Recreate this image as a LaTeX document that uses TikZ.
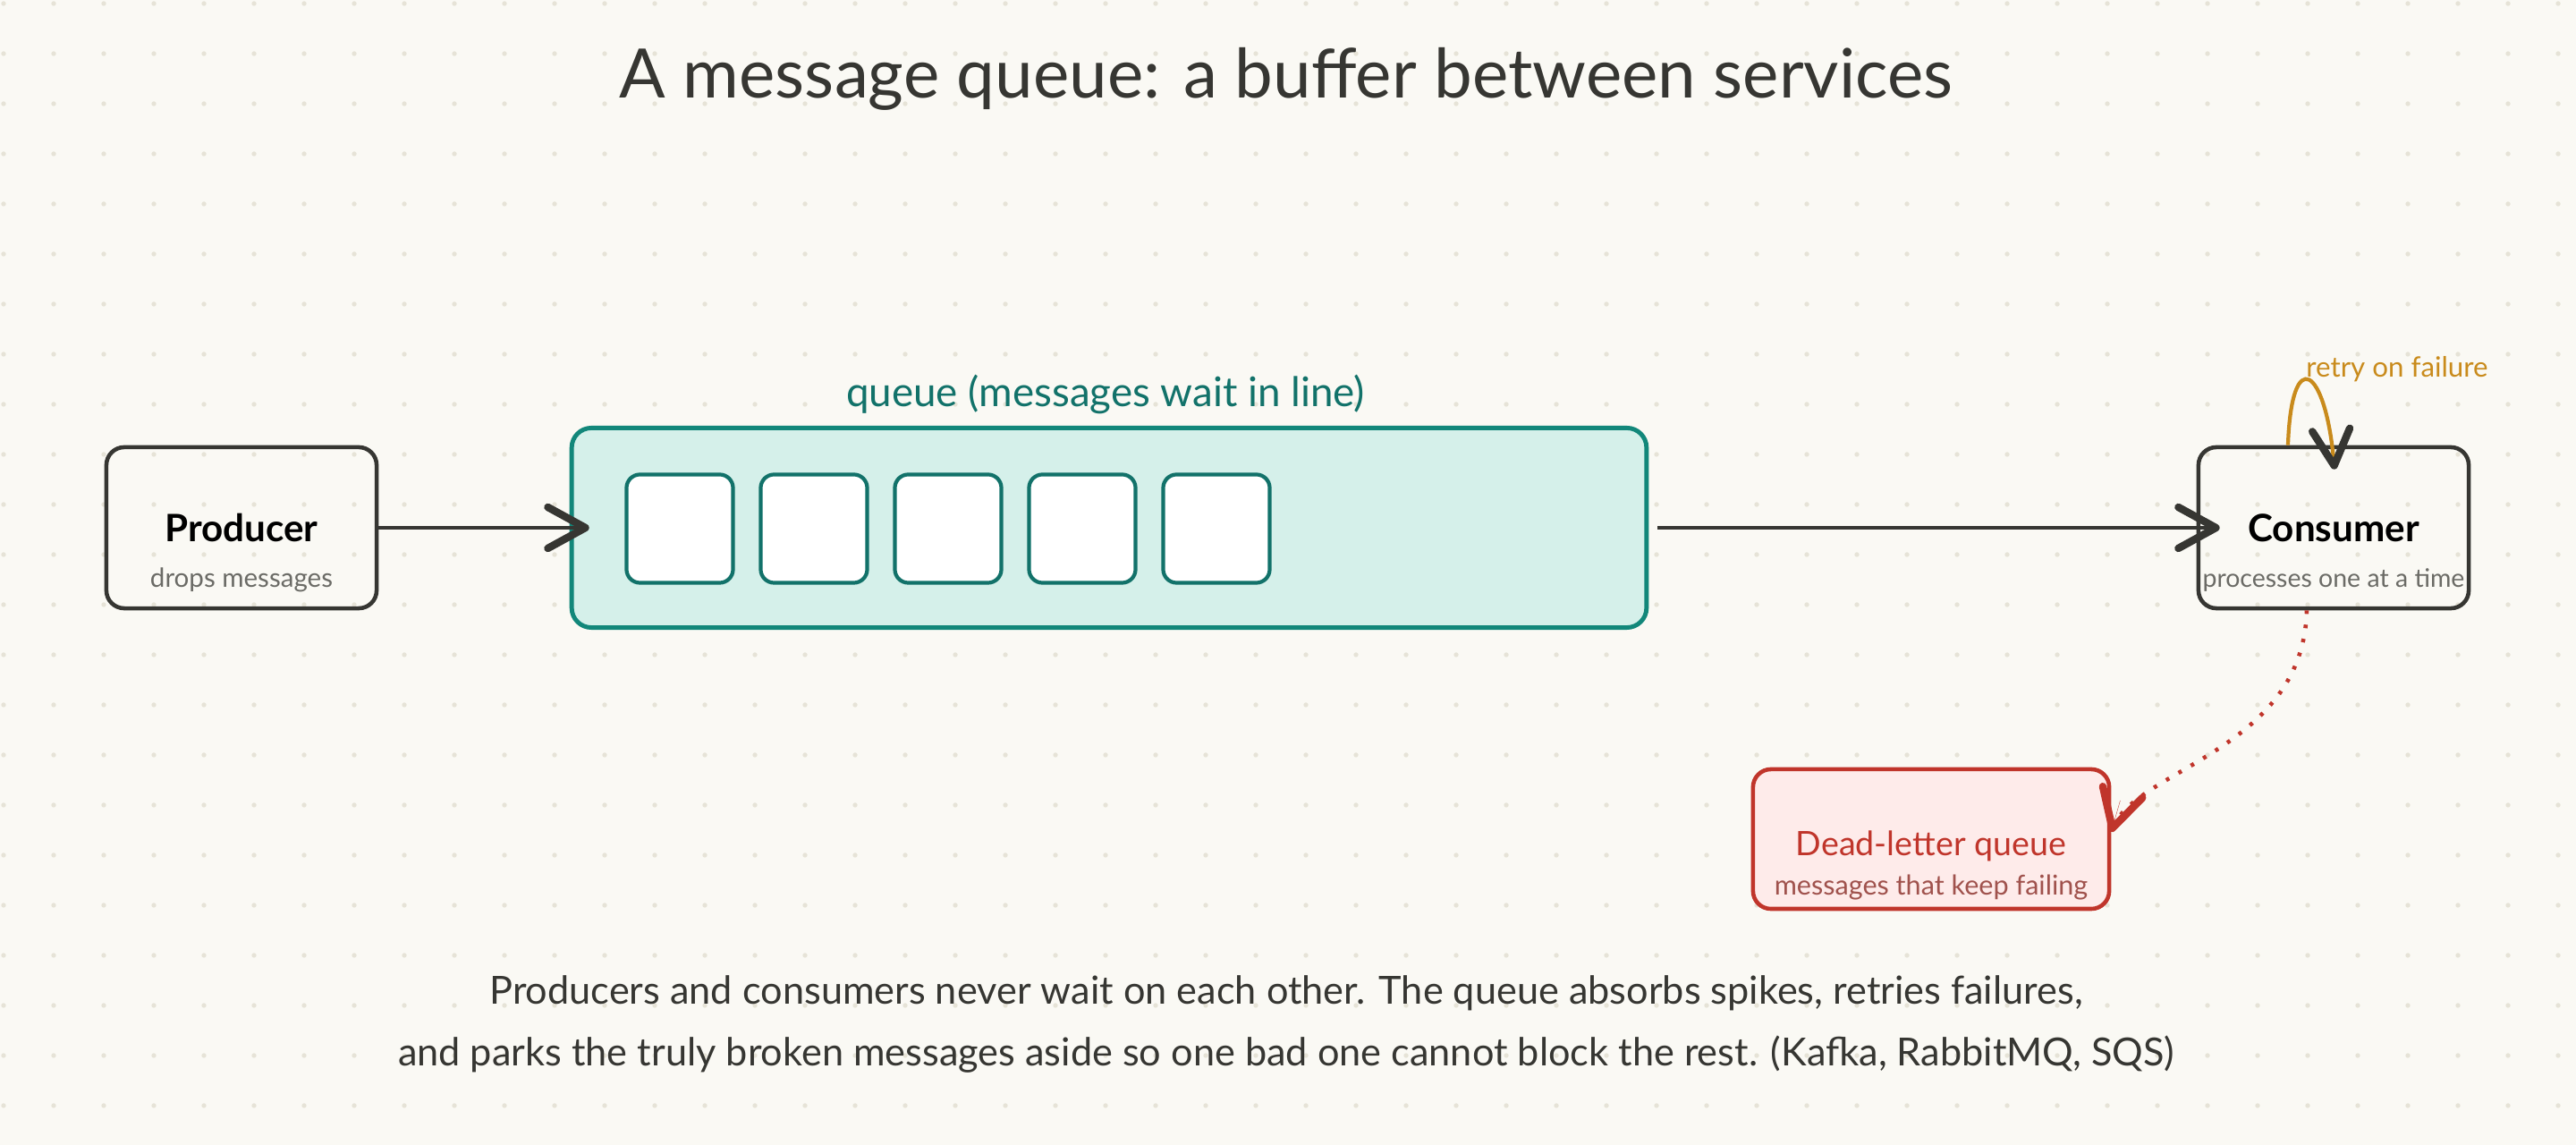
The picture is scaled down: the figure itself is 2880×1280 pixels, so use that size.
\documentclass[tikz,border=0pt]{standalone}
\usepackage{fontspec}
\setmainfont{Lato}
\usetikzlibrary{arrows.meta,calc}
\definecolor{paper}{HTML}{FAF9F4}
\definecolor{griddot}{HTML}{E6E3D7}
\definecolor{ink}{HTML}{363632}
\definecolor{subgray}{HTML}{6B6B66}
\definecolor{tealline}{HTML}{12877A}
\definecolor{tealfill}{HTML}{D5F0EA}
\definecolor{tealslot}{HTML}{12726A}
\definecolor{deadred}{HTML}{C0352B}
\definecolor{deadfill}{HTML}{FEEBEA}
\definecolor{deadsub}{HTML}{A0524D}
\definecolor{retryorange}{HTML}{C98B1C}
\tikzset{
  box/.style={draw=ink, line width=1.3pt, rounded corners=0.2cm,
    minimum width=3.02cm, minimum height=1.8cm},
  boxtitle/.style={font=\bfseries\fontsize{12}{14}\selectfont, text=black},
  boxsub/.style={font=\fontsize{8.4}{10}\selectfont, text=subgray},
  slot/.style={draw=tealslot, fill=white, line width=1.2pt, rounded corners=0.15cm,
    minimum width=1.19cm, minimum height=1.21cm},
  chev/.style={-{Straight Barb[length=0.42cm,width=0.46cm,line width=2.4pt,round]},
    line width=1.2pt},
}

\begin{document}
\begin{tikzpicture}[x=0.01cm,y=-0.01cm]
	\fill[paper] (0,0) rectangle (2880,1280);
	\useasboundingbox (0,0) rectangle (2880,1280);
	\foreach \gx in {0,...,51}
		\foreach \gy in {0,...,22}
			\fill[griddot] ({4+56*\gx},{4+56*\gy}) circle (0.027cm);

	\node[font=\fontsize{21.7}{26}\selectfont, text=ink] (title) at (1438,88)
		{A message queue: a buffer between services};

	% producer
	\node[box] (producer) at (270,590) {};
	\node[boxtitle] (prodname) at (producer.center) {Producer};
	\node[boxsub] (prodsub) at ([yshift=-0.58cm]producer.center) {drops messages};

	% the queue and its waiting messages
	\node[draw=tealline, fill=tealfill, line width=1.4pt, rounded corners=0.22cm,
		minimum width=12.01cm, minimum height=2.23cm] (queue) at (1240,590) {};
	\node[font=\fontsize{13}{15}\selectfont, text=tealslot] (queuelabel) at (1236,441)
		{queue (messages wait in line)};
	\foreach \i in {1,...,5}
		\node[slot] (msg\i) at ({610+150*\i},591) {};

	% consumer
	\node[box] (consumer) at (2609,590) {};
	\node[boxtitle] (consname) at (consumer.center) {Consumer};
	\node[boxsub, font=\fontsize{8.1}{10}\selectfont] (conssub) at ([yshift=-0.58cm]consumer.center)
		{processes one at a time};

	% dead-letter queue
	\node[box, draw=deadred, fill=deadfill, minimum width=3.98cm, minimum height=1.56cm]
		(deadletter) at (2159,938) {};
	\node[font=\fontsize{10.7}{12}\selectfont, text=deadred] (deadname)
		at ([yshift=-0.08cm]deadletter.center) {Dead-letter queue};
	\node[font=\fontsize{8.7}{10}\selectfont, text=deadsub] (deadsub)
		at ([yshift=-0.54cm]deadletter.center) {messages that keep failing};

	\draw[chev, draw=ink] (producer.east) -- ([xshift=0.22cm]queue.west);
	\draw[chev, draw=ink] ([xshift=0.1cm]queue.east) -- ([xshift=0.26cm]consumer.west);

	\draw[chev, draw=retryorange, -{Straight Barb[length=0.4cm,width=0.42cm,line width=2.4pt,round,color=ink]}]
		([xshift=-0.51cm]consumer.north) to[out=88,in=95,looseness=5]
		([xshift=0.01cm,yshift=-0.27cm]consumer.north);
	\node[font=\fontsize{8.9}{10}\selectfont, text=retryorange] (retrylabel) at (2680,413)
		{retry on failure};

	% dotted hand-off, solid head drawn on its own
	\coordinate (deadend) at ([yshift=0.08cm]deadletter.east);
	\draw[draw=deadred, line width=1.3pt, dash pattern=on 0.04cm off 0.12cm]
		([xshift=-0.3cm]consumer.south)
		.. controls ($(consumer.south)+(-34,160)$) and ($(deadend)+(20,-70)$) .. (deadend);
	\draw[draw=deadred, line width=0.1pt,
		-{Straight Barb[length=0.42cm,width=0.46cm,line width=2.4pt,round]}]
		($(deadend)+(10,-35)$) -- (deadend);

	\node[font=\fontsize{12.3}{19.4}\selectfont, text=ink, align=center] (caption) at (1438,1145)
		{Producers and consumers never wait on each other. The queue absorbs spikes, retries failures,\\
		and parks the truly broken messages aside so one bad one cannot block the rest. (Kafka, RabbitMQ, SQS)};
\end{tikzpicture}
\end{document}
